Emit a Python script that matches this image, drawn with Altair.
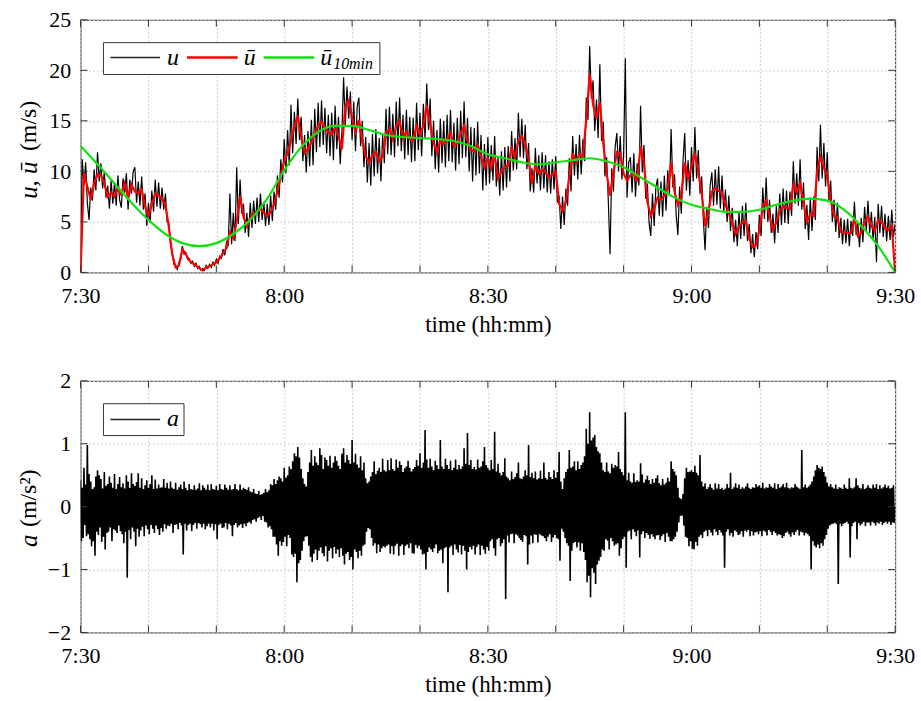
import altair as alt
import pandas as pd

FONT = "Liberation Serif"
FRAME = "#333333"
W, H_TOP, H_BOT = 819, 254, 253

# Wind speed u (m/s), one sample every 15 s starting at 7:30
u = [
    0.0, 11.2, 8.6, 10.9, 6.9, 5.2, 8.4, 7.1, 10.2, 8.1, 11.9, 9.0,
    10.8, 8.3, 9.9, 7.4, 8.6, 6.3, 9.1, 6.8, 8.9, 6.6, 9.6, 7.2,
    6.4, 9.3, 7.9, 9.8, 6.2, 9.2, 7.8, 10.0, 10.4, 6.9, 9.0, 6.6,
    9.5, 6.2, 7.8, 4.6, 6.9, 4.9, 8.1, 6.0, 9.2, 6.5, 8.9, 6.3,
    8.4, 6.2, 7.8, 5.0, 4.9, 2.8, 2.1, 0.8, 0.7, 0.3, 1.0, 1.3,
    2.6, 1.8, 2.0, 1.3, 1.4, 0.9, 1.1, 0.6, 0.9, 0.4, 0.6, 0.2,
    0.4, 0.2, 0.7, 0.4, 0.8, 0.5, 1.0, 0.7, 1.3, 0.9, 1.6, 1.4,
    2.3, 1.7, 3.0, 2.6, 7.8, 2.8, 5.9, 3.1, 10.4, 4.8, 9.2, 5.8,
    6.8, 3.9, 5.9, 3.5, 6.9, 4.4, 7.1, 4.8, 7.4, 5.0, 7.8, 5.2,
    7.0, 4.6, 6.8, 4.7, 7.6, 5.1, 8.0, 6.2, 9.6, 7.4, 11.2, 8.9,
    13.2, 9.8, 14.1, 10.6, 16.6, 11.8, 15.9, 12.7, 17.2, 13.1, 15.4, 11.0,
    13.6, 9.9, 14.0, 10.5, 15.1, 10.6, 16.2, 11.9, 16.8, 12.4, 17.0, 12.6,
    16.3, 11.8, 15.6, 11.5, 15.8, 11.1, 16.5, 12.2, 15.4, 10.7, 13.9, 19.3,
    14.6, 18.4, 15.2, 17.9, 13.1, 16.9, 12.0, 16.4, 17.3, 12.5, 15.0, 10.4,
    13.4, 8.9, 12.8, 8.6, 13.7, 9.5, 14.2, 9.8, 13.3, 9.0, 13.6, 10.8,
    16.2, 11.7, 16.4, 11.6, 15.7, 11.4, 16.9, 12.5, 17.3, 12.0, 15.6, 11.2,
    16.1, 11.6, 15.4, 10.9, 15.3, 11.0, 16.8, 12.1, 15.8, 11.5, 16.7, 13.2,
    18.7, 14.1, 17.2, 11.5, 15.0, 10.2, 14.1, 9.9, 15.2, 10.8, 15.0, 10.4,
    15.6, 11.0, 16.1, 10.9, 14.8, 10.1, 15.3, 10.7, 16.0, 11.3, 16.9, 11.4,
    15.3, 10.0, 14.4, 9.0, 14.3, 9.6, 14.9, 9.8, 13.6, 8.1, 12.7, 8.6,
    13.4, 8.8, 12.6, 9.1, 13.5, 8.5, 11.4, 7.6, 12.0, 8.1, 12.4, 8.4,
    12.5, 9.0, 14.0, 10.1, 13.3, 10.2, 15.8, 11.4, 15.2, 11.3, 14.6, 10.2,
    12.8, 8.0, 10.3, 7.9, 12.3, 8.8, 11.6, 8.1, 11.9, 8.3, 11.6, 7.9,
    11.0, 7.8, 11.2, 8.2, 11.5, 6.9, 7.6, 4.3, 7.5, 4.7, 8.3, 6.6,
    11.3, 8.0, 13.5, 9.6, 12.7, 9.2, 13.6, 9.7, 13.2, 11.0, 17.3, 15.1,
    22.4, 17.2, 19.0, 14.0, 17.1, 13.3, 20.6, 13.0, 14.9, 9.5, 11.4, 7.0,
    1.8, 10.3, 8.0, 12.4, 13.8, 10.0, 13.5, 9.2, 11.6, 21.2, 7.4, 10.9,
    11.4, 7.9, 11.8, 7.5, 10.8, 8.6, 16.5, 9.9, 12.6, 7.3, 8.8, 4.9,
    3.6, 7.8, 4.6, 8.4, 9.3, 5.6, 9.0, 5.5, 9.6, 6.1, 10.1, 7.8,
    14.2, 8.4, 9.7, 5.6, 3.7, 8.5, 5.8, 11.0, 13.8, 8.1, 11.1, 7.6,
    12.4, 9.0, 14.4, 9.3, 12.1, 7.8, 9.5, 5.2, 2.2, 6.5, 4.4, 8.6,
    9.9, 6.6, 10.2, 6.7, 10.5, 6.3, 9.6, 6.0, 8.2, 5.0, 7.6, 4.1,
    6.4, 3.0, 5.2, 2.6, 6.0, 3.3, 6.6, 3.6, 6.9, 3.1, 4.8, 1.9,
    3.8, 1.5, 4.0, 2.3, 5.7, 3.6, 8.4, 5.3, 9.4, 5.0, 7.2, 3.9,
    5.8, 2.9, 6.6, 3.9, 7.8, 4.7, 8.3, 4.9, 8.1, 4.8, 8.0, 5.6,
    11.0, 6.8, 9.8, 6.6, 11.2, 6.2, 8.9, 4.3, 6.7, 3.2, 7.4, 4.1,
    7.5, 5.2, 12.4, 9.0, 14.6, 9.3, 12.8, 8.5, 11.9, 7.0, 9.1, 5.0,
    7.2, 4.0, 6.9, 3.4, 5.4, 2.8, 5.2, 2.9, 5.3, 2.6, 5.1, 3.6,
    7.0, 3.7, 4.9, 2.5, 5.4, 3.0, 6.5, 4.1, 7.1, 3.9, 6.0, 3.2,
    5.5, 1.0, 6.8, 3.9, 6.6, 3.5, 5.8, 3.1, 5.6, 3.2, 6.2, 3.5,
    4.8,
]

# Running mean u-bar (m/s), one value every 30 s
u_bar = [
    0.0, 9.8, 8.5, 7.2, 8.8, 9.7, 9.6, 8.8, 7.5, 7.9,
    7.5, 8.4, 7.7, 8.8, 7.4, 8.7, 8.0, 7.8, 8.2, 6.5,
    5.6, 6.8, 7.8, 7.6, 7.3, 6.7, 4.5, 1.8, 0.5, 0.7,
    2.3, 1.8, 1.2, 0.9, 0.7, 0.4, 0.2, 0.5, 0.6, 0.8,
    1.0, 1.4, 1.9, 2.4, 4.0, 3.4, 5.0, 7.5, 5.5, 4.6,
    5.4, 5.8, 6.0, 6.3, 5.9, 5.6, 6.0, 6.7, 8.0, 9.6,
    11.0, 11.8, 13.0, 14.5, 15.5, 13.4, 11.8, 12.2, 12.9, 13.8,
    14.5, 14.9, 14.3, 13.9, 13.6, 14.4, 13.5, 12.2, 16.5, 17.0,
    15.3, 13.9, 15.1, 13.0, 11.5, 10.9, 11.6, 11.9, 11.0, 11.5,
    13.9, 14.2, 13.2, 14.5, 15.0, 13.3, 13.9, 13.2, 13.1, 14.5,
    13.6, 14.5, 16.5, 14.6, 12.8, 11.9, 13.1, 12.7, 13.2, 13.8,
    12.5, 12.8, 13.7, 14.5, 13.0, 12.1, 12.0, 12.6, 11.5, 10.4,
    11.3, 10.3, 11.6, 9.3, 10.0, 10.4, 10.6, 12.3, 11.4, 13.0,
    13.5, 12.7, 11.2, 8.8, 10.6, 9.8, 10.2, 9.9, 9.4, 9.7,
    10.0, 6.8, 6.1, 7.0, 9.5, 11.8, 10.9, 11.7, 11.4, 15.2,
    19.6, 16.6, 15.2, 16.8, 12.8, 9.8, 7.6, 9.8, 11.9, 11.8,
    9.8, 9.1, 9.6, 9.8, 9.0, 12.5, 10.8, 7.0, 5.6, 6.3,
    7.4, 7.2, 7.6, 8.3, 10.9, 8.0, 6.7, 7.4, 10.9, 9.2,
    10.5, 11.8, 10.0, 7.8, 4.6, 6.0, 8.0, 8.3, 8.1, 7.8,
    6.7, 5.9, 4.9, 3.8, 4.5, 4.9, 5.1, 3.4, 2.5, 2.7,
    4.2, 6.5, 7.1, 5.5, 4.2, 5.0, 6.1, 6.5, 6.4, 6.3,
    8.7, 7.9, 8.8, 7.0, 5.0, 5.8, 5.6, 10.0, 11.4, 10.4,
    9.5, 7.2, 5.6, 5.4, 4.0, 3.9, 3.9, 3.9, 5.4, 3.6,
    3.9, 5.0, 5.5, 4.6, 4.1, 5.2, 5.0, 4.4, 4.2, 4.6,
    0.0,
]

# 10-minute trend u-bar_10min (m/s), one value every 2.5 min
u_10min = [
    12.5, 10.7, 8.8, 6.9, 5.2, 3.8, 2.9, 2.6, 2.9, 3.8,
    5.2, 7.3, 10.1, 12.4, 13.9, 14.5, 14.5, 14.1, 13.6, 13.4,
    13.3, 13.2, 13.0, 12.5, 11.7, 11.3, 10.9, 10.7, 10.9, 11.1,
    11.3, 11.0, 10.4, 9.4, 8.4, 7.4, 6.7, 6.3, 6.0, 6.0,
    6.2, 6.7, 7.1, 7.3, 7.1, 6.2, 4.6, 2.6, 0.0,
]

# Acceleration a (m/s^2), one sample every 7.5 s
a = [
    0.42, -0.55, 0.30, -0.50, 0.62, -0.29, 0.35, -0.47,
    0.98, -0.44, 0.52, -0.52, 0.40, -0.63, 0.28, -0.55,
    0.31, -0.78, 0.48, -0.40, 0.58, -0.45, 0.50, -0.33,
    0.44, -0.56, 0.29, -0.48, 0.55, -0.68, 0.33, -0.42,
    0.36, -0.40, 0.48, -0.33, 0.38, -0.55, 0.30, -0.36,
    0.52, -0.38, 0.28, -0.42, 0.36, -0.30, 0.47, -0.39,
    0.31, -0.44, 0.37, -0.58, 0.29, -0.40, 0.50, -1.13,
    0.40, -0.37, 0.30, -0.52, 0.53, -0.33, 0.36, -0.40,
    0.33, -0.63, 0.39, -0.35, 0.53, -0.48, 0.30, -0.38,
    0.45, -0.32, 0.28, -0.47, 0.34, -0.30, 0.42, -0.36,
    0.30, -0.44, 0.36, -0.29, 0.50, -0.35, 0.28, -0.42,
    0.43, -0.30, 0.29, -0.36, 0.35, -0.45, 0.30, -0.34,
    0.31, -0.40, 0.44, -0.28, 0.30, -0.35, 0.38, -0.30,
    0.29, -0.31, 0.40, -0.27, 0.30, -0.42, 0.28, -0.29,
    0.38, -0.28, 0.27, -0.36, 0.31, -0.26, 0.35, -0.30,
    0.28, -0.76, 0.40, -0.27, 0.30, -0.38, 0.26, -0.29,
    0.36, -0.27, 0.28, -0.39, 0.27, -0.29, 0.34, -0.26,
    0.27, -0.35, 0.29, -0.26, 0.37, -0.28, 0.26, -0.33,
    0.34, -0.27, 0.30, -0.36, 0.27, -0.31, 0.35, -0.27,
    0.26, -0.33, 0.36, -0.27, 0.28, -0.38, 0.27, -0.28,
    0.33, -0.52, 0.26, -0.29, 0.36, -0.27, 0.28, -0.34,
    0.27, -0.33, 0.35, -0.26, 0.30, -0.36, 0.27, -0.27,
    0.34, -0.30, 0.27, -0.47, 0.28, -0.29, 0.36, -0.26,
    0.28, -0.33, 0.26, -0.30, 0.35, -0.28, 0.27, -0.34,
    0.30, -0.27, 0.28, -0.31, 0.27, -0.26, 0.31, -0.24,
    0.24, -0.27, 0.23, -0.21, 0.28, -0.20, 0.21, -0.24,
    0.20, -0.18, 0.25, -0.16, 0.19, -0.21, 0.20, -0.15,
    0.22, -0.24, 0.28, -0.25, 0.23, -0.33, 0.26, -0.31,
    0.36, -0.36, 0.34, -0.48, 0.44, -0.48, 0.36, -0.60,
    0.42, -0.78, 0.48, -0.55, 0.45, -0.62, 0.40, -0.56,
    0.62, -0.48, 0.46, -0.63, 0.50, -0.45, 0.64, -0.50,
    0.60, -0.76, 0.72, -0.80, 0.85, -0.75, 0.80, -1.20,
    0.95, -0.90, 0.78, -0.85, 0.60, -0.70, 0.45, -0.55,
    0.36, -0.48, 0.32, -0.47, 0.55, -0.62, 0.70, -0.80,
    0.90, -0.88, 0.65, -0.75, 0.80, -0.68, 0.70, -0.85,
    0.66, -0.70, 0.93, -0.65, 0.82, -0.74, 0.60, -0.79,
    0.78, -0.63, 0.74, -0.87, 0.65, -0.70, 0.81, -0.66,
    0.62, -0.82, 0.70, -0.64, 0.80, -0.75, 0.73, -0.68,
    0.65, -0.80, 0.60, -0.66, 0.84, -0.78, 0.93, -0.92,
    0.70, -0.75, 0.82, -0.72, 0.74, -0.85, 0.68, -0.80,
    1.06, -1.00, 0.70, -0.68, 0.84, -0.72, 0.67, -0.82,
    0.62, -0.70, 0.80, -0.78, 0.58, -0.62, 0.70, -0.60,
    0.45, -0.40, 0.37, -0.34, 0.40, -0.36, 0.48, -0.50,
    0.55, -0.62, 0.72, -0.58, 0.52, -0.74, 0.57, -0.60,
    0.62, -0.72, 0.55, -0.66, 0.76, -0.63, 0.58, -0.65,
    0.56, -0.62, 0.74, -0.60, 0.58, -0.75, 0.77, -0.63,
    0.60, -0.76, 0.57, -0.62, 0.75, -0.59, 0.62, -0.78,
    0.72, -0.63, 0.66, -0.60, 0.55, -0.77, 0.61, -0.62,
    0.64, -0.60, 0.73, -0.66, 0.62, -0.58, 0.56, -0.74,
    0.60, -0.75, 0.63, -0.61, 0.74, -0.66, 0.65, -0.62,
    0.85, -0.68, 0.62, -0.76, 0.70, -0.75, 1.22, -1.00,
    0.75, -0.72, 0.62, -0.65, 0.76, -0.68, 0.64, -0.72,
    0.58, -0.66, 0.73, -0.60, 0.66, -0.74, 0.60, -0.70,
    1.06, -0.68, 0.64, -0.90, 0.60, -0.66, 0.76, -0.64,
    0.66, -1.36, 0.60, -0.65, 0.73, -0.62, 0.58, -0.77,
    0.62, -0.60, 0.75, -0.68, 0.59, -0.73, 0.66, -0.61,
    0.60, -0.76, 0.64, -0.62, 0.93, -0.70, 0.68, -1.00,
    1.17, -0.72, 0.66, -0.64, 0.74, -0.68, 0.60, -0.62,
    0.63, -0.76, 0.59, -0.64, 0.75, -0.60, 0.62, -0.77,
    0.64, -0.62, 0.72, -0.68, 0.95, -0.75, 0.66, -0.64,
    0.62, -0.70, 0.58, -0.55, 0.74, -0.52, 0.60, -0.66,
    1.19, -0.78, 0.56, -0.52, 0.68, -0.50, 0.54, -0.63,
    0.50, -0.58, 0.55, -0.52, 0.77, -1.47, 0.48, -0.46,
    0.45, -0.57, 0.42, -0.44, 0.56, -0.43, 0.44, -0.58,
    0.47, -0.44, 0.53, -0.46, 0.70, -0.50, 0.45, -0.53,
    0.44, -0.56, 0.48, -0.45, 0.58, -0.47, 0.50, -0.92,
    0.98, -0.60, 0.47, -0.46, 0.54, -0.58, 0.45, -0.44,
    0.56, -0.45, 0.43, -0.57, 0.45, -0.44, 0.57, -0.46,
    0.44, -0.47, 0.70, -0.50, 0.46, -0.55, 0.43, -0.48,
    0.55, -0.44, 0.47, -0.56, 0.44, -0.49, 0.58, -0.45,
    0.46, -0.50, 0.55, -0.52, 0.87, -0.86, 0.40, -0.35,
    0.28, -0.40, 0.45, -0.50, 0.55, -0.58, 0.60, -0.62,
    0.90, -1.18, 0.62, -0.70, 0.64, -0.58, 0.72, -0.56,
    0.58, -0.65, 0.72, -0.57, 0.60, -0.70, 0.66, -0.58,
    0.70, -0.72, 0.80, -0.85, 1.24, -1.20, 1.00, -1.10,
    1.50, -1.44, 1.05, -0.98, 1.10, -1.05, 1.14, -1.23,
    0.95, -0.92, 0.88, -0.86, 0.85, -0.80, 0.70, -0.68,
    0.58, -0.70, 0.55, -0.52, 0.70, -0.54, 0.56, -0.68,
    0.53, -0.50, 0.68, -0.55, 0.62, -0.62, 0.66, -0.60,
    0.64, -0.58, 0.87, -0.78, 0.60, -0.66, 0.55, -0.52,
    0.50, -0.48, 1.50, -0.97, 0.42, -0.40, 0.54, -0.38,
    0.40, -0.52, 0.38, -0.36, 0.53, -0.40, 0.39, -0.47,
    0.42, -0.38, 0.40, -0.81, 0.69, -0.44, 0.51, -0.39,
    0.38, -0.50, 0.43, -0.42, 0.49, -0.45, 0.42, -0.51,
    0.36, -0.44, 0.44, -0.48, 0.38, -0.52, 0.45, -0.46,
    0.50, -0.45, 0.37, -0.53, 0.34, -0.47, 0.44, -0.44,
    0.35, -0.56, 0.38, -0.42, 0.46, -0.48, 0.40, -0.55,
    0.72, -0.55, 0.60, -0.52, 0.56, -0.48, 0.50, -0.40,
    0.30, -0.25, 0.14, -0.15, 0.12, -0.14, 0.20, -0.30,
    0.45, -0.48, 0.62, -0.50, 0.55, -0.63, 0.56, -0.55,
    0.58, -0.67, 0.55, -0.68, 0.65, -0.56, 0.54, -0.62,
    0.50, -0.48, 0.82, -0.45, 0.40, -0.50, 0.32, -0.40,
    0.37, -0.38, 0.28, -0.47, 0.31, -0.37, 0.36, -0.41,
    0.30, -0.46, 0.27, -0.36, 0.37, -0.40, 0.29, -0.45,
    0.36, -0.37, 0.28, -0.41, 0.30, -0.46, 0.27, -0.97,
    0.29, -0.40, 0.36, -0.36, 0.30, -0.46, 0.54, -0.42,
    0.28, -0.48, 0.31, -0.38, 0.37, -0.40, 0.30, -0.45,
    0.35, -0.44, 0.28, -0.39, 0.31, -0.48, 0.29, -0.38,
    0.32, -0.40, 0.37, -0.37, 0.30, -0.47, 0.28, -0.39,
    0.31, -0.46, 0.30, -0.41, 0.36, -0.40, 0.32, -0.44,
    0.34, -0.39, 0.30, -0.47, 0.38, -0.38, 0.29, -0.40,
    0.31, -0.46, 0.30, -0.37, 0.36, -0.40, 0.32, -0.45,
    0.30, -0.39, 0.37, -0.42, 0.28, -0.46, 0.36, -0.44,
    0.30, -0.45, 0.32, -0.50, 0.36, -0.47, 0.31, -0.42,
    0.38, -0.40, 0.30, -0.44, 0.29, -0.48, 0.31, -0.41,
    0.30, -0.45, 0.36, -0.40, 0.32, -0.37, 0.30, -0.46,
    0.28, -0.40, 0.90, -0.41, 0.31, -0.46, 0.35, -0.42,
    0.30, -0.44, 0.32, -0.47, 0.35, -1.00, 0.40, -0.55,
    0.48, -0.62, 0.58, -0.65, 0.66, -0.60, 0.62, -0.66,
    0.60, -0.58, 0.64, -0.62, 0.55, -0.52, 0.48, -0.45,
    0.38, -0.35, 0.32, -0.30, 0.36, -0.28, 0.31, -0.27,
    0.29, -0.26, 0.35, -0.28, 0.28, -1.23, 0.31, -0.27,
    0.30, -0.31, 0.28, -0.27, 0.35, -0.26, 0.30, -0.24,
    0.28, -0.27, 0.45, -0.81, 0.30, -0.31, 0.29, -0.26,
    0.31, -0.24, 0.45, -0.52, 0.34, -0.26, 0.30, -0.30,
    0.29, -0.27, 0.36, -0.24, 0.28, -0.31, 0.30, -0.25,
    0.34, -0.25, 0.30, -0.30, 0.29, -0.24, 0.35, -0.26,
    0.30, -0.30, 0.36, -0.25, 0.28, -0.27, 0.34, -0.24,
    0.29, -0.29, 0.31, -0.26, 0.35, -0.24, 0.30, -0.27,
    0.33, -0.24, 0.29, -0.29, 0.30, -0.25, 0.34, -0.26,
    0.0,
]

# Axis positions (minutes after 7:30) and value ticks
x_ticks = [0, 10, 20, 30, 40, 50, 60, 70, 80, 90, 100, 110, 120]
u_ticks = [0, 5, 10, 15, 20, 25]
a_ticks = [-2, -1, 0, 1, 2]

df_u = pd.DataFrame({"t": [i * 0.25 for i in range(len(u))], "u": u})
df_ubar = pd.DataFrame({"t": [i * 0.5 for i in range(len(u_bar))], "u": u_bar})
df_u10 = pd.DataFrame({"t": [i * 2.5 for i in range(len(u_10min))], "u": u_10min})
df_a = pd.DataFrame({"t": [i * 0.125 for i in range(len(a))], "a": a})
one = pd.DataFrame({"k": [0]})

time_expr = (
    "datum.value % 30 === 0 ? floor((450 + datum.value) / 60) + ':' + "
    "(((450 + datum.value) % 60) < 10 ? '0' : '') + ((450 + datum.value) % 60) : ''"
)

x_scale = alt.Scale(domain=[0, 120], nice=False, zero=False)


def x_enc():
    return alt.X(
        "t:Q",
        scale=x_scale,
        title="time (hh:mm)",
        axis=alt.Axis(
            values=x_ticks, labelExpr=time_expr, grid=True, labelFlush=False,
            labelOverlap=False, labelPadding=13, titleY=59, titleBaseline="alphabetic",
        ),
    )


def y_enc(field, domain, ticks):
    return alt.Y(
        f"{field}:Q",
        scale=alt.Scale(domain=domain, nice=False, zero=False),
        title=None,
        axis=alt.Axis(values=ticks, grid=True, labelPadding=10, format="d"),
    )


def inner_ticks(field, domain, ticks, height):
    """Short tick marks drawn inside the frame on all four sides."""
    xt = pd.DataFrame({"t": x_ticks})
    yt = pd.DataFrame({field: ticks})
    rule = dict(color=FRAME, strokeWidth=1)
    return [
        alt.Chart(xt).mark_rule(**rule).encode(x=x_enc(), y=alt.value(0), y2=alt.value(7)),
        alt.Chart(xt).mark_rule(**rule).encode(x=x_enc(), y=alt.value(height - 7), y2=alt.value(height)),
        alt.Chart(yt).mark_rule(**rule).encode(y=y_enc(field, domain, ticks), x=alt.value(0), x2=alt.value(7)),
        alt.Chart(yt).mark_rule(**rule).encode(y=y_enc(field, domain, ticks), x=alt.value(W - 7), x2=alt.value(W)),
    ]


def text(s, x, y, size, style="italic", align="left", baseline="alphabetic", angle=0):
    return alt.Chart(one).mark_text(
        text=s, font=FONT, fontSize=size, fontStyle=style, align=align,
        baseline=baseline, angle=angle, color="black",
    ).encode(x=alt.value(x), y=alt.value(y))


def key_line(x0, x1, y, color, width):
    return alt.Chart(one).mark_rule(color=color, strokeWidth=width).encode(
        x=alt.value(x0), x2=alt.value(x1), y=alt.value(y)
    )


def key_box(x0, x1, y0, y1):
    return alt.Chart(one).mark_rect(fill="white", stroke=FRAME, strokeWidth=1).encode(
        x=alt.value(x0), x2=alt.value(x1), y=alt.value(y0), y2=alt.value(y1)
    )


# ---- upper panel: wind speed ----
yu = y_enc("u", [0, 25], u_ticks)
u_line = alt.Chart(df_u).mark_line(color="black", strokeWidth=1.2, clip=True).encode(x=x_enc(), y=yu)
ubar_line = alt.Chart(df_ubar).mark_line(color="#ff0000", strokeWidth=2.2, clip=True).encode(x=x_enc(), y=yu)
u10_line = alt.Chart(df_u10).mark_line(
    color="#12e012", strokeWidth=2.2, interpolate="monotone", clip=True
).encode(x=x_enc(), y=yu)

top = alt.layer(
    u_line, ubar_line, u10_line,
    *inner_ticks("u", [0, 25], u_ticks, H_TOP),
    key_box(23, 301, 23, 55),
    key_line(30, 80, 38, "#222222", 1.5),
    text("u", 87, 45, 24),
    key_line(107, 158, 38, "#ff0000", 2.5),
    text("ū", 164, 45, 24),
    key_line(184, 235, 38, "#12e012", 2.5),
    text("ū", 241, 45, 24),
    text("10min", 254, 49, 16),
    text("u, ū", -52, 180, 25, angle=270, baseline="middle"),
    text("(m/s)", -52, 132, 24, style="normal", angle=270, baseline="middle"),
).properties(width=W, height=H_TOP)

# ---- lower panel: acceleration ----
ya = y_enc("a", [-2, 2], a_ticks)
a_line = alt.Chart(df_a).mark_line(color="black", strokeWidth=1.6, clip=True).encode(x=x_enc(), y=ya)

bottom = alt.layer(
    a_line,
    *inner_ticks("a", [-2, 2], a_ticks, H_BOT),
    key_box(23, 104, 23, 55),
    key_line(30, 80, 39, "#222222", 1.5),
    text("a", 87, 45, 24),
    text("a", -52, 167, 25, angle=270, baseline="middle"),
    text("(m/s²)", -52, 147, 24, style="normal", angle=270, baseline="middle"),
).properties(width=W, height=H_BOT)

chart = (
    alt.vconcat(top, bottom, spacing=109, bounds="flush")
    .properties(padding={"left": 16, "top": 6, "right": 5, "bottom": 0})
    .configure_view(stroke=FRAME, strokeWidth=1)
    .configure_axis(
        labelFont=FONT, labelFontSize=22, labelColor="black",
        titleFont=FONT, titleFontSize=23, titleFontWeight="normal", titleColor="black",
        gridColor="#cccccc", gridDash=[2, 2], gridWidth=1,
        domain=False, ticks=False, tickSize=0,
    )
)

chart.save("out.html", embed_options={"renderer": "svg", "actions": False})
